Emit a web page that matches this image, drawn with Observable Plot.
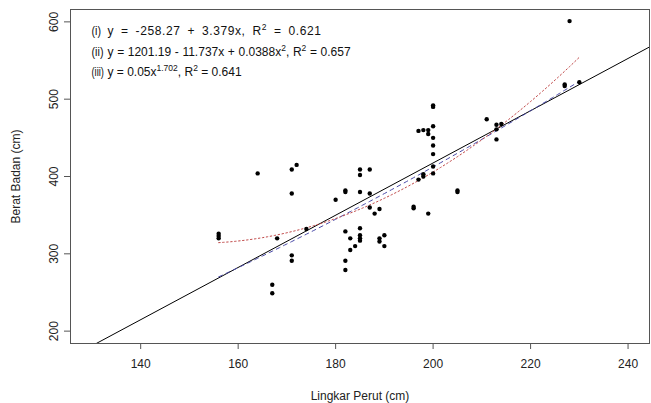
<!DOCTYPE html>
<html>
<head>
<meta charset="utf-8">
<script src="https://cdn.jsdelivr.net/npm/d3@7"></script>
<script src="https://cdn.jsdelivr.net/npm/@observablehq/plot@0.6"></script>
<style>
  html, body { margin: 0; padding: 0; background: #fff; }
</style>
</head>
<body>
<div id="chart"></div>
<script>
// Observed data: Lingkar Perut (cm) vs Berat Badan
const lingkarPerut = [156,156,156,164,167,167,168,171,172,171,171,171,174,180,182,182,182,182,182,183,183,184,185,185,185,185,185,185,185,187,187,187,188,189,189,189,190,190,196,196,197,197,198,198,198,199,199,199,200,200,200,200,200,200,200,200,205,205,211,213,213,213,214,227,227,228,230];
const beratBadan   = [326,323,320,404,260,249,320,409,415,378,298,291,332,370,382,380,329,291,279,320,305,310,409,402,380,333,324,320,317,409,378,360,352,358,320,316,324,310,361,359,459,396,460,403,400,460,455,352,492,490,465,450,440,429,413,404,382,380,474,467,461,448,468,519,517,601,522];

// Fitted models as printed on the chart
const linearCoef = [-258.27, 3.379];            // (i)  y = a + b x
const quadCoef   = [1201.19, -11.737, 0.0388];  // (ii) y = a + b x + c x^2
const powerCoef  = [0.05, 1.702];               // (iii) y = a x^b
const fitRange   = [156, 230];

const xTicks = [140, 160, 180, 200, 220, 240];
const yTicks = [200, 300, 400, 500, 600];

const eqLabels = ["(i)", "(ii)", "(iii)"];
const eqTexts = [
  "y = -258.27 + 3.379x, R^{2} = 0.621",
  "y = 1201.19 - 11.737x + 0.0388x^{2}, R^{2} = 0.657",
  "y = 0.05x^{1.702}, R^{2} = 0.641"
];
const xLabel = "Lingkar Perut (cm)";
const yLabel = "Berat Badan (cm)";

const points = lingkarPerut.map((x, i) => ({x, y: beratBadan[i]}));
const xDomain = [125.6, 244.4];
const yDomain = [184, 616];

const ablinePts = xDomain.map(x => ({x, y: linearCoef[0] + linearCoef[1] * x}));
const fitXs = d3.range(fitRange[0], fitRange[1] + 0.001, 0.5);
const quadPts = fitXs.map(x => ({x, y: quadCoef[0] + quadCoef[1] * x + quadCoef[2] * x * x}));
const powPts = fitXs.map(x => ({x, y: powerCoef[0] * Math.pow(x, powerCoef[1])}));

const rowDy = [22, 43, 63];
const labelLen = [9.5, 12, 12.5];
const wordSpacing = [3, 0.3, 0];
const letterSpacing = [0.6, 0, 0];
const eqMarks = eqLabels.flatMap((l, i) => [
  Plot.text([l], {frameAnchor: "top-left", dx: 21, dy: rowDy[i], textAnchor: "start", lineAnchor: "middle", fill: "#111"}),
  Plot.text([eqTexts[i]], {frameAnchor: "top-left", dx: 37, dy: rowDy[i], textAnchor: "start", lineAnchor: "middle", fill: "#111"})
]);

const chart = Plot.plot({
  width: 651,
  height: 403,
  marginLeft: 70,
  marginRight: 2,
  marginTop: 9,
  marginBottom: 60,
  x: {domain: xDomain},
  y: {domain: yDomain},
  style: {fontFamily: "'Liberation Sans', Arial, sans-serif", fontSize: "12px", background: "#fff", color: "#222"},
  marks: [
    Plot.axisX({ticks: xTicks, tickSize: 6, tickPadding: 10, label: null, stroke: "#555"}),
    Plot.axisY({ticks: yTicks, tickSize: 6, tickFormat: () => "", label: null, stroke: "#555"}),
    Plot.text(yTicks, {y: d => d, text: d => String(d), frameAnchor: "left", dx: -16, rotate: -90, textAnchor: "middle", lineAnchor: "middle", fill: "#222"}),
    Plot.text([xLabel], {frameAnchor: "bottom", dy: 53, textAnchor: "middle", lineAnchor: "middle", fill: "#222"}),
    Plot.text([yLabel], {frameAnchor: "left", dx: -54, rotate: -90, textAnchor: "middle", lineAnchor: "middle", fill: "#222"}),
    Plot.line(ablinePts, {x: "x", y: "y", stroke: "#000", strokeWidth: 1, clip: true}),
    Plot.line(powPts, {x: "x", y: "y", stroke: "#4a4aa8", strokeWidth: 1, strokeDasharray: "4,4", clip: true}),
    Plot.line(quadPts, {x: "x", y: "y", stroke: "#c04848", strokeWidth: 1, strokeDasharray: "1.5,2.5", clip: true}),
    Plot.dot(points, {x: "x", y: "y", r: 2.2, fill: "#000", stroke: null}),
    ...eqMarks,
    Plot.frame({stroke: "#555"})
  ]
});

// Render ^{...} as real superscript tspans; adjust label widths/spacing
d3.select(chart).selectAll("text").each(function() {
  const t = this.textContent;
  const li = eqLabels.indexOf(t);
  if (li >= 0) {
    this.setAttribute("textLength", labelLen[li]);
    this.setAttribute("lengthAdjust", "spacingAndGlyphs");
    return;
  }
  const ei = eqTexts.indexOf(t);
  if (ei < 0) return;
  this.style.wordSpacing = wordSpacing[ei] + "px";
  this.style.letterSpacing = letterSpacing[ei] + "px";
  const parts = t.split(/\^\{([^}]*)\}/);
  this.textContent = "";
  const sel = d3.select(this);
  let raised = false;
  parts.forEach((p, i) => {
    const sup = i % 2 === 1;
    if (p === "" && !sup) return;
    const ts = sel.append("tspan").text(p);
    if (sup) { ts.attr("dy", -5.5).attr("font-size", 8.5); raised = true; }
    else if (raised) { ts.attr("dy", 5.5); raised = false; }
  });
});

document.getElementById("chart").appendChild(chart);
</script>
</body>
</html>
